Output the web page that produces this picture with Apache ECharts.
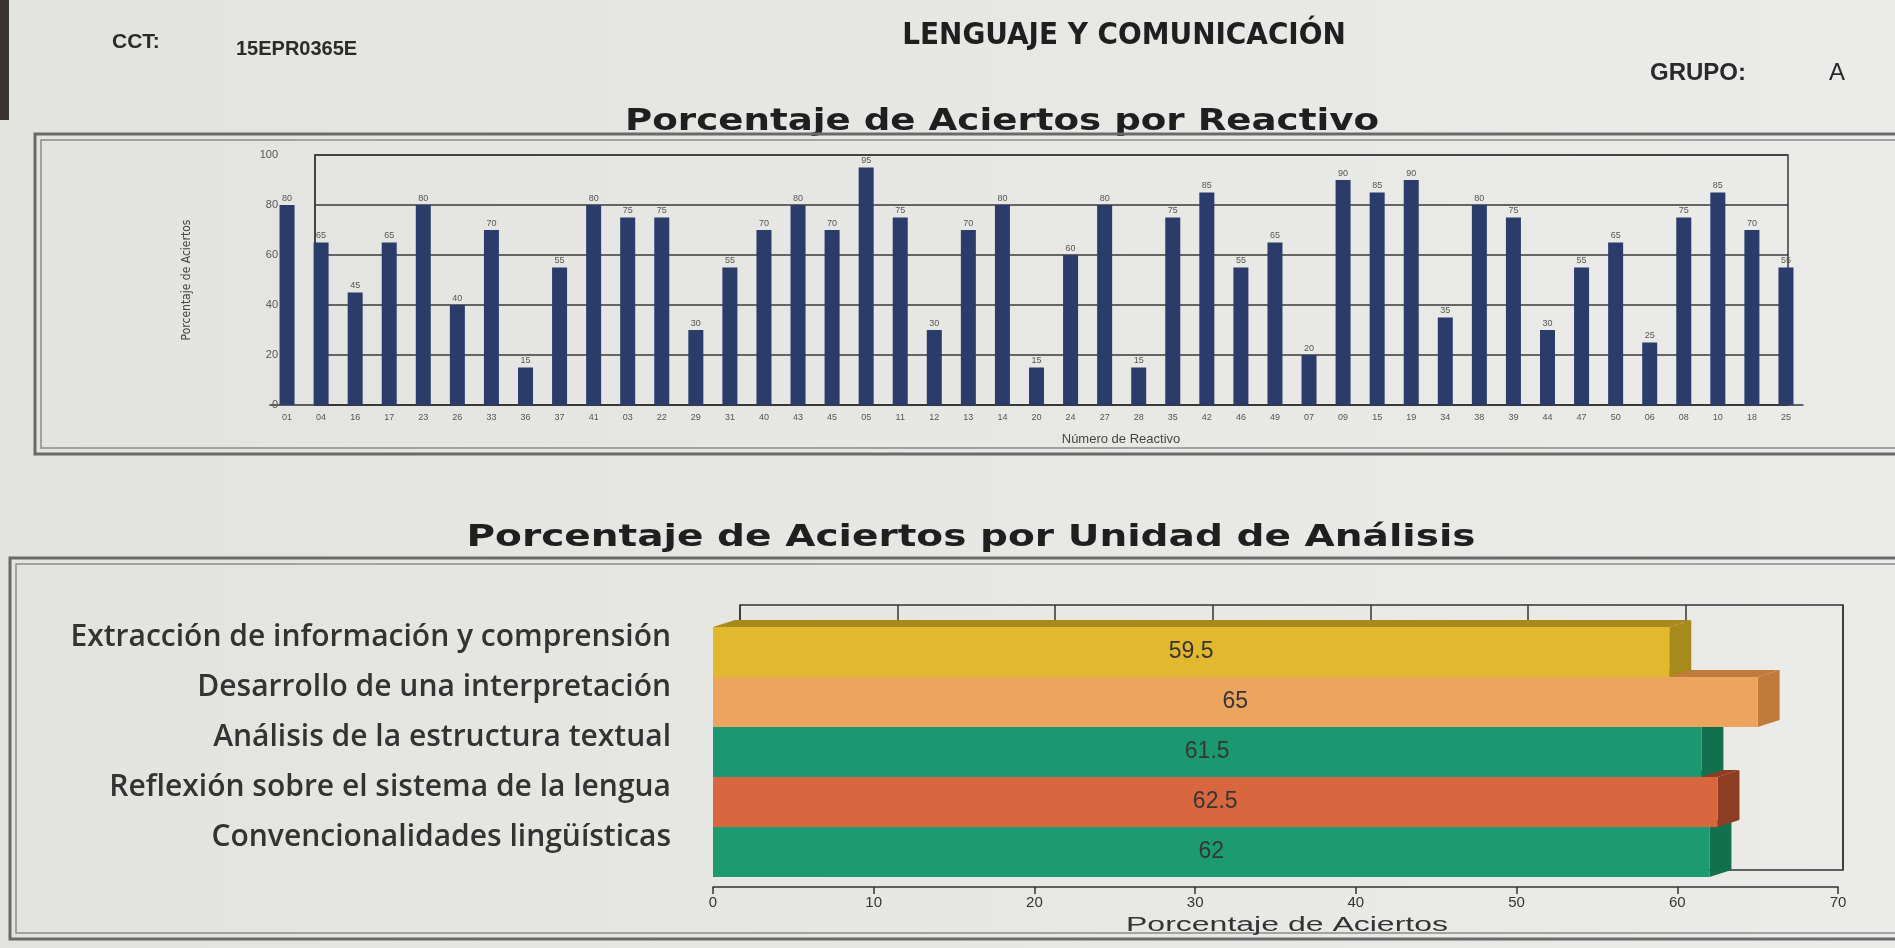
<!DOCTYPE html>
<html>
<head>
<meta charset="utf-8">
<script src="https://cdn.jsdelivr.net/npm/echarts@6/dist/echarts.min.js"></script>
<style>
  html, body { margin: 0; padding: 0; background: #e6e6e3; }
  #main { width: 1895px; height: 948px; }
</style>
</head>
<body>
<div id="main"></div>
<script>
// porcentaje de aciertos por reactivo
var reactivos = ['01','04','16','17','23','26','33','36','37','41','03','22','29','31','40','43','45','05','11','12',
                 '13','14','20','24','27','28','35','42','46','49','07','09','15','19','34','38','39','44','47','50',
                 '06','08','10','18','25'];
var aciertos = [80,65,45,65,80,40,70,15,55,80,75,75,30,55,70,80,70,95,75,30,
                70,80,15,60,80,15,75,85,55,65,20,90,85,90,35,80,75,30,55,65,
                25,75,85,70,55];

// porcentaje de aciertos por unidad de analisis
var unidades = ['Extracción de información y comprensión', 'Desarrollo de una interpretación',
                'Análisis de la estructura textual', 'Reflexión sobre el sistema de la lengua',
                'Convencionalidades lingüísticas'];
var unidadValores = [59.5, 65, 61.5, 62.5, 62];
var unidadColores = ['#e2b92e', '#eda45f', '#1c9870', '#d8663e', '#1c9a70'];
var unidadLados = ['#a88a1c', '#c07a3c', '#12704f', '#8e3c22', '#12704f'];

var narrow = '"Liberation Sans Narrow", "DejaVu Sans Condensed", "Liberation Sans", sans-serif';
var arial = '"Liberation Sans", Arial, sans-serif';

function renderUnidad(params, api) {
  var idx = api.value(1);
  var val = api.value(0);
  var p0 = api.coord([0, idx]);
  var p1 = api.coord([val, idx]);
  var band = api.size([0, 1])[1];
  var top = p0[1] - band / 2;
  var bottom = p0[1] + band / 2;
  var dx = 22, dy = 7;
  return {
    type: 'group',
    children: [
      { type: 'polygon', shape: { points: [[p0[0], top], [p1[0], top], [p1[0] + dx, top - dy], [p0[0] + dx, top - dy]] },
        style: { fill: unidadLados[idx] } },
      { type: 'polygon', shape: { points: [[p1[0], top], [p1[0] + dx, top - dy], [p1[0] + dx, bottom - dy], [p1[0], bottom]] },
        style: { fill: unidadLados[idx] } },
      { type: 'rect', shape: { x: p0[0], y: top, width: p1[0] - p0[0], height: band },
        style: { fill: unidadColores[idx] } },
      { type: 'text', style: { text: String(val), x: (p0[0] + p1[0]) / 2, y: p0[1], align: 'center', verticalAlign: 'middle',
        font: '23px ' + arial, fill: '#363636' } }
    ]
  };
}

// wide bold title, stretched like the photographed page
function stretchedText(txt, x, y, font, sx, color) {
  return { type: 'group', x: x, y: y, scaleX: sx, children: [
    { type: 'text', style: { text: txt, x: 0, y: 0, font: font, fill: color || '#1f1f1f', align: 'center', verticalAlign: 'middle' } }
  ] };
}

var chart = echarts.init(document.getElementById('main'));

var option = {
  animation: false,
  backgroundColor: {
    type: 'linear', x: 0, y: 0, x2: 1, y2: 0,
    colorStops: [{ offset: 0, color: '#e3e3e0' }, { offset: 1, color: '#ebebe9' }]
  },
  graphic: [
    // left edge of the photo
    { type: 'rect', shape: { x: 0, y: 0, width: 9, height: 120 }, style: { fill: '#3a3530' } },
    // header
    { type: 'text', left: 112, top: 32, style: { text: 'CCT:', font: 'bold 21px ' + arial, fill: '#2a2a2a' } },
    { type: 'text', left: 236, top: 39, style: { text: '15EPR0365E', font: 'bold 20px ' + arial, fill: '#2a2a2a' } },
    { type: 'text', x: 1124, y: 36, style: { text: 'LENGUAJE Y COMUNICACIÓN', font: 'bold 31px ' + narrow, fill: '#1f1f1f', align: 'center', verticalAlign: 'middle' } },
    { type: 'text', left: 1650, top: 61, style: { text: 'GRUPO:', font: 'bold 24px ' + arial, fill: '#2a2a2a' } },
    { type: 'text', left: 1829, top: 61, style: { text: 'A', font: '24px ' + arial, fill: '#2a2a2a' } },
    stretchedText('Porcentaje de Aciertos por Reactivo', 1002, 122, 'bold 30px "DejaVu Sans", sans-serif', 1.24),
    // top panel frame
    { type: 'rect', shape: { x: 35, y: 134, width: 1900, height: 320 }, style: { fill: 'none', stroke: '#6a6a6a', lineWidth: 3 } },
    { type: 'rect', shape: { x: 41, y: 140, width: 1900, height: 308 }, style: { fill: 'none', stroke: '#8c8c8c', lineWidth: 1.5 } },
    { type: 'text', x: 1121, y: 439, style: { text: 'Número de Reactivo', font: '13px ' + arial, fill: '#444', align: 'center', verticalAlign: 'middle' } },
    // bottom panel
    stretchedText('Porcentaje de Aciertos por Unidad de Análisis', 971, 538, 'bold 31px "DejaVu Sans", sans-serif', 1.26),
    { type: 'rect', shape: { x: 10, y: 558, width: 1900, height: 381 }, style: { fill: 'none', stroke: '#6a6a6a', lineWidth: 3 } },
    { type: 'rect', shape: { x: 16, y: 564, width: 1900, height: 369 }, style: { fill: 'none', stroke: '#8c8c8c', lineWidth: 1.5 } },
    stretchedText('Porcentaje de Aciertos', 1287, 925, '20px ' + arial, 1.6, '#333')
  ],
  grid: [
    { left: 315, top: 155, width: 1473, height: 250, show: true, borderColor: '#3a3a3a', borderWidth: 1.5 },
    { left: 270, top: 155, width: 1533, height: 250 },
    { left: 740, top: 605, width: 1103, height: 265, show: true, borderColor: '#333', borderWidth: 1.5 },
    { left: 713, top: 627, width: 1125, height: 250 }
  ],
  xAxis: [
    { gridIndex: 0, type: 'value', show: false },
    { gridIndex: 1, type: 'category', data: reactivos,
      axisLine: { show: true, lineStyle: { color: '#333', width: 1.5 } },
      axisTick: { show: false },
      axisLabel: { fontSize: 9, color: '#555', margin: 8, interval: 0, fontFamily: 'Liberation Sans' } },
    { gridIndex: 2, type: 'value', min: 0, max: 70, interval: 10,
      axisLine: { show: false }, axisTick: { show: false }, axisLabel: { show: false },
      splitLine: { show: true, lineStyle: { color: '#333', width: 1.5 } } },
    { gridIndex: 3, type: 'value', min: 0, max: 70, interval: 10, offset: 10,
      axisLine: { show: true, lineStyle: { color: '#333', width: 1.5 } },
      axisTick: { show: true, length: 7, lineStyle: { color: '#333', width: 1.5 } },
      axisLabel: { fontSize: 15, color: '#333', margin: 8, fontFamily: 'Liberation Sans' },
      splitLine: { show: false } }
  ],
  yAxis: [
    { gridIndex: 0, type: 'value', min: 0, max: 100, interval: 20,
      axisLine: { show: true, lineStyle: { color: '#3a3a3a', width: 1.5 } },
      axisTick: { show: false },
      axisLabel: { fontSize: 11, color: '#555', margin: 37, fontFamily: 'Liberation Sans' },
      splitLine: { show: true, lineStyle: { color: '#3a3a3a', width: 1.5 } },
      name: 'Porcentaje de Aciertos', nameLocation: 'middle', nameGap: 122,
      nameTextStyle: { fontSize: 12, color: '#444', fontFamily: narrow } },
    { gridIndex: 1, type: 'value', min: 0, max: 100, show: false },
    { gridIndex: 2, type: 'value', show: false },
    { gridIndex: 3, type: 'category', data: unidades, inverse: true,
      axisLine: { show: false }, axisTick: { show: false },
      axisLabel: { fontSize: 30, fontWeight: 600, color: '#333', margin: 42, verticalAlign: 'bottom', lineHeight: 29,
        fontFamily: '"Open Sans", sans-serif' } }
  ],
  series: [
    { type: 'bar', xAxisIndex: 1, yAxisIndex: 1, data: aciertos, barWidth: 15,
      itemStyle: { color: '#2b3b6a' },
      label: { show: true, position: 'top', distance: 2, fontSize: 9, color: '#555', fontFamily: 'Liberation Sans' } },
    { type: 'custom', xAxisIndex: 3, yAxisIndex: 3, renderItem: renderUnidad,
      encode: { x: 0, y: 1 },
      // lower bars first so the bar above hides their top face
      data: unidadValores.map(function (v, i) { return [v, i]; }).reverse() }
  ]
};

chart.setOption(option);
</script>
</body>
</html>
